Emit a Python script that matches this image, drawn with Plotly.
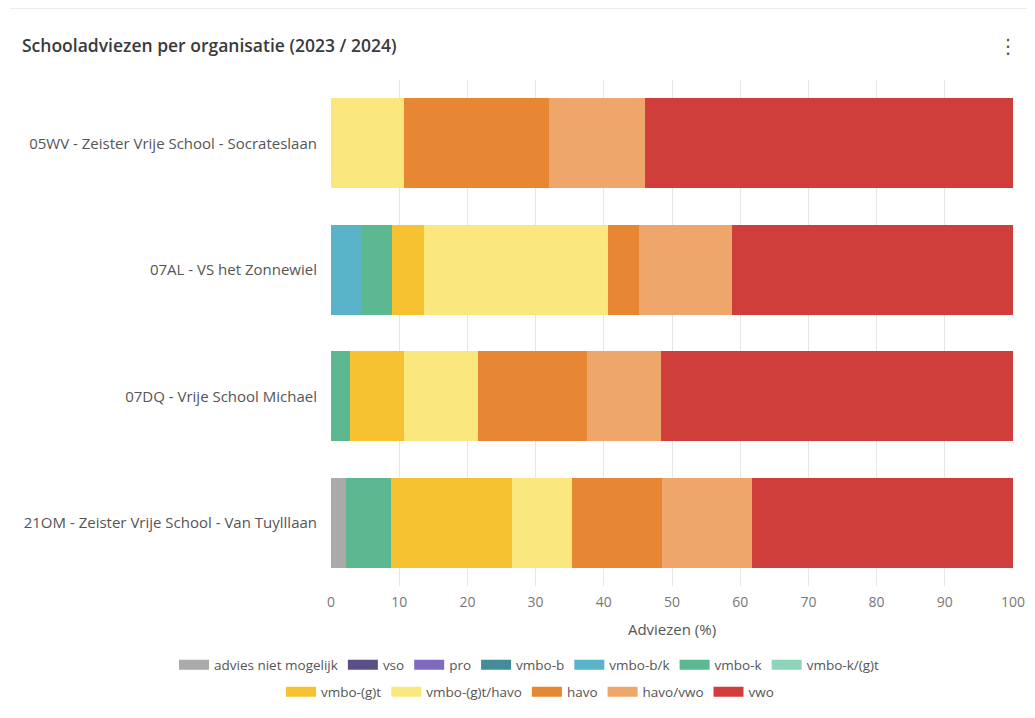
import plotly.graph_objects as go

organisaties = [
    "05WV - Zeister Vrije School - Socrateslaan",
    "07AL - VS het Zonnewiel",
    "07DQ - Vrije School Michael",
    "21OM - Zeister Vrije School - Van Tuylllaan",
]

categorieen = ["advies niet mogelijk", "vso", "pro", "vmbo-b", "vmbo-b/k", "vmbo-k",
               "vmbo-k/(g)t", "vmbo-(g)t", "vmbo-(g)t/havo", "havo", "havo/vwo", "vwo"]

kleuren = ["#aaaaaa", "#5b5085", "#7e6bbf", "#458c9a", "#5ab4c9", "#5bb890",
           "#8dd4b8", "#f6c232", "#fae87e", "#e78633", "#eea66a", "#cf3e3a"]

# percentages per category, in the order of organisaties
advies_niet_mogelijk = [0, 0, 0, 2.2]
vso = [0, 0, 0, 0]
pro = [0, 0, 0, 0]
vmbo_b = [0, 0, 0, 0]
vmbo_bk = [0, 4.6, 0, 0]
vmbo_k = [0, 4.4, 2.8, 6.6]
vmbo_kgt = [0, 0, 0, 0]
vmbo_gt = [0, 4.6, 7.9, 17.7]
vmbo_gt_havo = [10.7, 27.0, 10.8, 8.8]
havo = [21.2, 4.5, 16.0, 13.2]
havo_vwo = [14.2, 13.7, 10.9, 13.3]
vwo = [53.9, 41.2, 51.6, 38.2]

series = [advies_niet_mogelijk, vso, pro, vmbo_b, vmbo_bk, vmbo_k, vmbo_kgt,
          vmbo_gt, vmbo_gt_havo, havo, havo_vwo, vwo]

FONT = "Open Sans"
W, H = 1019, 702          # page has an 8px body margin
L, R, T, B = 323, 14, 72, 124
PW, PH = W - L - R, H - T - B

fig = go.Figure()

for i, (naam, kleur, vals) in enumerate(zip(categorieen, kleuren, series)):
    fig.add_trace(go.Bar(
        name=naam, x=vals, y=organisaties, orientation="h",
        marker=dict(color=kleur, line=dict(width=0)),
        legendgroup=naam, showlegend=False,
    ))
    fig.add_trace(go.Scatter(
        name=naam, x=[None], y=[None], mode="lines",
        line=dict(color=kleur, width=17),
        legendgroup=naam, showlegend=True,
        legend="legend" if i < 7 else "legend2",
    ))

legend_common = dict(
    orientation="h", xref="paper", yref="paper",
    xanchor="left", yanchor="middle",
    font=dict(family=FONT, size=13.5, color="#555555"),
    itemwidth=30, tracegroupgap=0, bgcolor="rgba(0,0,0,0)",
)

fig.update_layout(
    width=W, height=H,
    paper_bgcolor="white", plot_bgcolor="white",
    margin=dict(l=L, r=R, t=T, b=B, autoexpand=False),
    barmode="stack", bargap=0.29,
    font=dict(family=FONT, size=14, color="#555555"),
    title=dict(
        text="Schooladviezen per organisatie (2023 / 2024)",
        x=14 / W, xanchor="left", xref="container",
        y=1 - 38 / H, yanchor="middle", yref="container",
        font=dict(family=FONT, size=17.5, color="#3a3a3a", weight=600),
    ),
    legend=dict(**legend_common, x=(166 - L) / PW, y=(H - B - 657) / PH),
    legend2=dict(**legend_common, x=(273 - L) / PW, y=(H - B - 684) / PH),
    xaxis=dict(
        range=[0, 100], dtick=10, tick0=0,
        showgrid=True, gridcolor="#e6e6e6", gridwidth=1,
        zeroline=False, showline=False,
        ticks="", ticklabelstandoff=6, ticklabeloverflow="allow",
        tickfont=dict(family=FONT, size=14, color="#777777"),
        title=dict(text="Adviezen (%)", standoff=14,
                   font=dict(family=FONT, size=15, color="#555555")),
        fixedrange=True,
    ),
    yaxis=dict(
        autorange="reversed", showgrid=False, zeroline=False, showline=False,
        ticks="", ticklabelstandoff=13,
        tickfont=dict(family=FONT, size=15, color="#555555"),
        fixedrange=True,
    ),
    shapes=[
        dict(type="line", xref="paper", yref="paper",
             x0=(2 - L) / PW, x1=(W - L) / PW,
             y0=1 + (T - 0.5) / PH, y1=1 + (T - 0.5) / PH,
             line=dict(color="#ececec", width=1)),
    ],
    annotations=[
        dict(text="⋮", xref="paper", yref="paper",
             x=(1000 - L) / PW, y=1 + (T - 38) / PH,
             xanchor="center", yanchor="middle", showarrow=False,
             font=dict(family="DejaVu Sans", size=20, color="#555555")),
    ],
)

fig.write_html("out.html")
